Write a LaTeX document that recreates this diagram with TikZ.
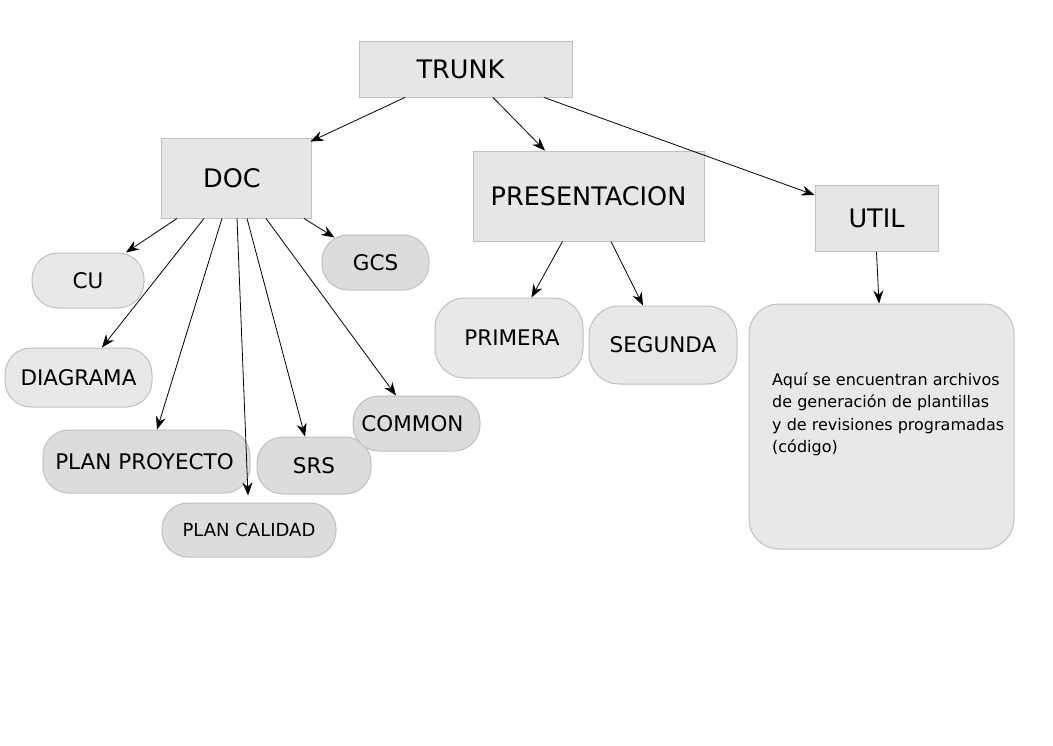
\documentclass[tikz,border=0pt]{standalone}
\usepackage{fontspec}
\setmainfont{DejaVu Sans}
\usetikzlibrary{arrows.meta}
\definecolor{boxfill}{RGB}{230,230,230}
\definecolor{pillfill}{RGB}{232,232,232}
\definecolor{darkfill}{RGB}{220,220,220}
\definecolor{boxline}{RGB}{192,192,192}
\tikzset{
  sqbox/.style={draw=boxline, fill=boxfill, line width=0.9pt, inner sep=0pt, font=\fontsize{25.5}{30}\selectfont},
  litepill/.style={draw=boxline, fill=pillfill, line width=1pt, rounded corners=26pt, inner sep=0pt, font=\fontsize{21.5}{25}\selectfont},
  darkpill/.style={draw=boxline, fill=darkfill, line width=1pt, rounded corners=26pt, inner sep=0pt, font=\fontsize{21.5}{25}\selectfont},
  conn/.style={draw=black, line width=0.8pt, -{Stealth[length=13pt,width=10pt]}},
}
\begin{document}
\begin{tikzpicture}[x=1pt,y=-1pt]
\useasboundingbox (0,0) rectangle (1053,745);
\fill[white] (0,0) rectangle (1053,745);
% top boxes
\node[sqbox, minimum width=213pt, minimum height=56pt] (trunk) at (465.5,69) {\hspace*{-10pt}TRUNK};
\node[sqbox, minimum width=150pt, minimum height=80pt] (doc) at (236,178) {\hspace*{-8pt}DOC};
\node[sqbox, minimum width=231pt, minimum height=90pt] (pres) at (588.5,196) {PRESENTACION};
\node[sqbox, minimum width=123pt, minimum height=66pt] (util) at (876.5,218.5) {UTIL};
% DOC children
\node[litepill, minimum width=112pt, minimum height=55pt] (cu) at (88,280.5) {CU};
\node[darkpill, minimum width=107pt, minimum height=55pt] (gcs) at (375.5,262.5) {GCS};
\node[litepill, minimum width=147pt, minimum height=59pt] (diag) at (78.5,377.5) {DIAGRAMA};
\node[darkpill, minimum width=207pt, minimum height=63pt] (pproy) at (146.5,461.5) {\hspace*{-4pt}PLAN PROYECTO};
\node[darkpill, minimum width=174pt, minimum height=54pt, font=\fontsize{18}{21}\selectfont] (pcal) at (249,530) {PLAN CALIDAD};
\node[darkpill, minimum width=114pt, minimum height=57pt] (srs) at (314,465.5) {SRS};
\node[darkpill, minimum width=127pt, minimum height=55pt] (common) at (416.5,423.5) {\hspace*{-8pt}COMMON};
% PRESENTACION children
\node[litepill, rounded corners=30pt, minimum width=148pt, minimum height=80pt] (prim) at (509,338) {\hspace*{6pt}PRIMERA};
\node[litepill, rounded corners=30pt, minimum width=148pt, minimum height=78pt] (seg) at (663,345) {SEGUNDA};
% UTIL child
\node[draw=boxline, fill=pillfill, line width=1pt, rounded corners=30pt, minimum width=265pt, minimum height=245pt, inner sep=0pt] (info) at (881.5,426.5) {};
\node[anchor=north west, inner sep=0pt, align=left, font=\fontsize{16}{22.5}\selectfont] (infotext) at (772,372) {Aquí se encuentran archivos\\de generación de plantillas\\y de revisiones programadas\\(código)};
% connectors from TRUNK
\draw[conn] ([xshift=-60.5pt]trunk.south) -- ([xshift=-1pt,yshift=-4pt]doc.north east);
\draw[conn] ([xshift=27.5pt]trunk.south) -- ([xshift=-43.5pt]pres.north);
\draw[conn] ([xshift=78.5pt]trunk.south) -- ([yshift=-10pt]util.north west);
% connectors from DOC
\draw[conn] ([xshift=-59pt]doc.south) -- ([xshift=38pt]cu.north);
\draw[conn] ([xshift=-32pt]doc.south) -- ([xshift=23.5pt]diag.north);
\draw[conn] ([xshift=-14pt]doc.south) -- ([xshift=10.5pt]pproy.north);
\draw[conn] ([xshift=1pt]doc.south) -- ([xshift=-1pt,yshift=7pt]pcal.north);
\draw[conn] ([xshift=11pt]doc.south) -- ([xshift=-9pt]srs.north);
\draw[conn] ([xshift=30pt]doc.south) -- ([xshift=-20.5pt]common.north);
\draw[conn] ([xshift=68pt]doc.south) -- ([xshift=13pt,yshift=-3pt]gcs.north west);
% connectors from PRESENTACION
\draw[conn] ([xshift=-26pt]pres.south) -- ([xshift=22.5pt]prim.north);
\draw[conn] ([xshift=22.5pt]pres.south) -- ([xshift=-20pt]seg.north);
% connector from UTIL
\draw[conn] (util.south) -- ([xshift=-2.5pt]info.north);
\end{tikzpicture}
\end{document}
